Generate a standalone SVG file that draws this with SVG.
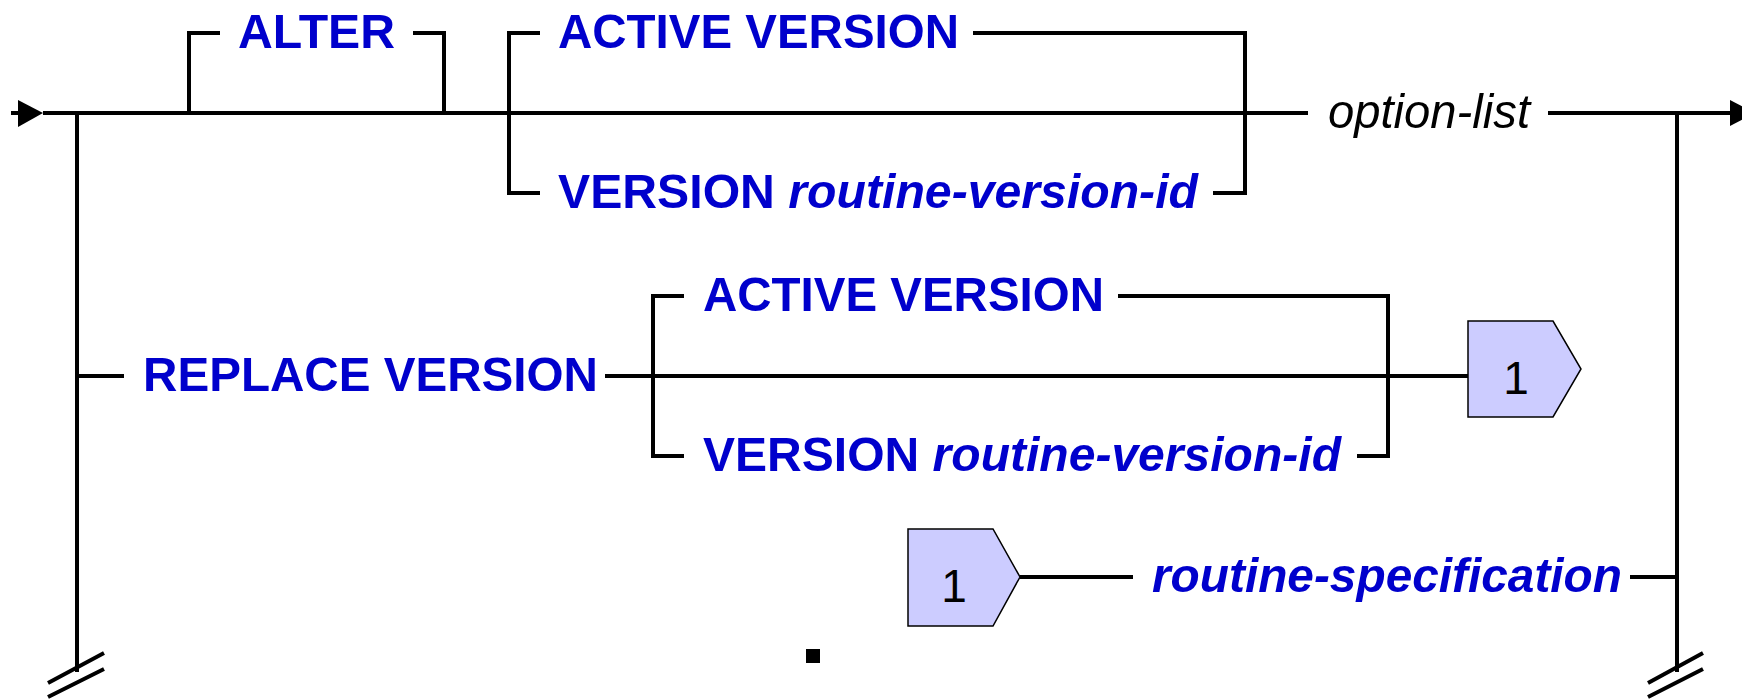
<svg xmlns="http://www.w3.org/2000/svg" width="1742" height="699" viewBox="0 0 1742 699">
<style>
.ln{fill:none;stroke:#000;stroke-width:4;stroke-linecap:butt;stroke-linejoin:miter}
.kw{font-family:"Liberation Sans",Arial,sans-serif;font-size:49px;font-weight:bold;fill:#0000cc}
.var{font-family:"Liberation Sans",Arial,sans-serif;font-size:49px;font-weight:bold;font-style:italic;fill:#0000cc}
.opt{font-family:"Liberation Sans",Arial,sans-serif;font-size:49px;font-style:italic;fill:#000}
.ref{fill:#ccccff;stroke:#000;stroke-width:1.5}
.refnum{font-family:"Liberation Sans",Arial,sans-serif;font-size:46px;fill:#000;text-anchor:middle}
.arr{fill:#000}
</style>
<rect width="1742" height="699" fill="#fff"/>
<g id="connectors">
  <path class="ln" d="M11 113H20"/>
  <polygon class="arr" points="18,100 43,113 18,127"/>
  <path class="ln" d="M43 113H1308"/>
  <path class="ln" d="M1548 113H1732"/>
  <polygon class="arr" points="1730,100 1755,113 1730,126"/>
  <path class="ln" d="M189 113V33H220"/>
  <path class="ln" d="M413 33H444V113"/>
  <path class="ln" d="M540 33H509V193H540"/>
  <path class="ln" d="M973 33H1245V193H1213"/>
  <path class="ln" d="M77 113V672"/>
  <path class="ln" d="M77 376H124"/>
  <path class="ln" d="M48 683L104 653M48 697L104 669"/>
  <path class="ln" d="M1677 113V672"/>
  <path class="ln" d="M1630 577H1677"/>
  <path class="ln" d="M1648 683L1703 653M1648 697L1703 669"/>
  <path class="ln" d="M605 376H1468"/>
  <path class="ln" d="M684 296H653V456H684"/>
  <path class="ln" d="M1118 296H1388V456H1357"/>
  <path class="ln" d="M1020 577H1133"/>
</g>
<g id="alter"><text class="kw" x="238" y="48" textLength="157" lengthAdjust="spacingAndGlyphs">ALTER</text></g>
<g id="active-version-1"><text class="kw" x="558" y="48" textLength="401" lengthAdjust="spacingAndGlyphs">ACTIVE VERSION</text></g>
<g id="version-1"><text x="558" y="208" textLength="640" lengthAdjust="spacingAndGlyphs"><tspan class="kw">VERSION </tspan><tspan class="var">routine-version-id</tspan></text></g>
<g id="option-list"><text class="opt" x="1328" y="128" textLength="202" lengthAdjust="spacingAndGlyphs">option-list</text></g>
<g id="replace-version"><text class="kw" x="143" y="391" textLength="455" lengthAdjust="spacingAndGlyphs">REPLACE VERSION</text></g>
<g id="active-version-2"><text class="kw" x="703" y="311" textLength="401" lengthAdjust="spacingAndGlyphs">ACTIVE VERSION</text></g>
<g id="version-2"><text x="703" y="471" textLength="638" lengthAdjust="spacingAndGlyphs"><tspan class="kw">VERSION </tspan><tspan class="var">routine-version-id</tspan></text></g>
<g id="ref-1-out">
  <polygon class="ref" points="1468,321 1553,321 1581,369 1553,417 1468,417"/>
  <text class="refnum" x="1516" y="394">1</text>
</g>
<g id="ref-1-in">
  <polygon class="ref" points="908,529 993,529 1020,577 993,626 908,626"/>
  <text class="refnum" x="954" y="602">1</text>
</g>
<g id="routine-specification"><text class="var" x="1152" y="592" textLength="470" lengthAdjust="spacingAndGlyphs">routine-specification</text></g>
<g id="dot"><rect x="806" y="649" width="14" height="14" fill="#000"/></g>
</svg>
